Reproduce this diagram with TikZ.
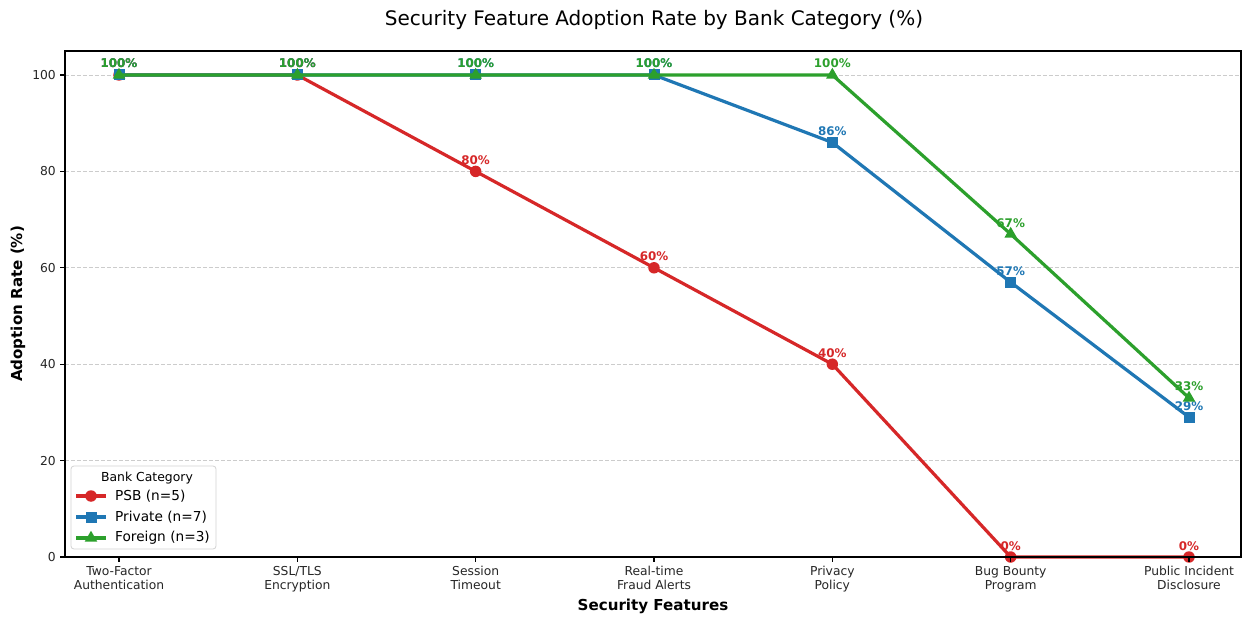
\documentclass[tikz,border=0pt]{standalone}
\usepackage{fontspec}
\setmainfont{DejaVu Sans}
\usetikzlibrary{shapes.geometric}
\definecolor{cpsb}{HTML}{D62728}
\definecolor{cpriv}{HTML}{1F77B4}
\definecolor{cfor}{HTML}{2CA02C}
\definecolor{gridc}{HTML}{CCCCCC}
\begin{document}
\begin{tikzpicture}[x=1pt,y=-1pt,
  ticklab/.style={font=\fontsize{12.3}{14.2}\selectfont, inner sep=0pt, text=black!85},
  axlab/.style={font=\fontsize{15.1}{17}\selectfont\bfseries, inner sep=0pt},
  annot/.style={font=\fontsize{11.9}{13}\selectfont\bfseries, inner sep=0pt, anchor=base, yshift=7pt},
  series/.style={line width=3.2pt, line join=round, line cap=round},
  mcirc/.style={circle, fill=#1, inner sep=0pt, minimum size=11.5pt},
  msq/.style={rectangle, fill=#1, inner sep=0pt, minimum size=11pt},
  mtri/.style={regular polygon, regular polygon sides=3, fill=#1, inner sep=0pt, minimum size=14.5pt},
  gridline/.style={gridc, line width=0.8pt, dash pattern=on 4pt off 2pt},
  legtext/.style={font=\fontsize{13.7}{14.5}\selectfont, inner sep=0pt, anchor=west},
]
\useasboundingbox (0,0) rectangle (1242,617);
\fill[white] (0,0) rectangle (1242,617);

% title
\node[font=\fontsize{20}{22}\selectfont, inner sep=0pt] (title) at (654,20) {Security Feature Adoption Rate by Bank Category (\%)};

% data scope
\begin{scope}[shift={(119,557)}, x=178.333pt, y=4.82pt]
  \foreach \v in {20,40,60,80,100} { \draw[gridline] (-0.303,\v) -- (6.292,\v); }
  % coordinates
  \foreach \i/\v in {0/100,1/100,2/80,3/60,4/40,5/0,6/0} { \coordinate (a\i) at (\i,\v); }
  \foreach \i/\v in {0/100,1/100,2/100,3/100,4/86,5/57,6/29} { \coordinate (b\i) at (\i,\v); }
  \foreach \i/\v in {0/100,1/100,2/100,3/100,4/100,5/67,6/33} { \coordinate (c\i) at (\i,\v); }
  % PSB
  \draw[series, cpsb] (a0) -- (a1) -- (a2) -- (a3) -- (a4) -- (a5) -- (a6);
  \foreach \i/\t in {0/100,1/100,2/80,3/60,4/40,5/0,6/0} {
    \node[mcirc=cpsb] (ma\i) at (a\i) {};
    \node[annot, text=cpsb] (la\i) at (a\i) {\t\%};
  }
  % Private
  \draw[series, cpriv] (b0) -- (b1) -- (b2) -- (b3) -- (b4) -- (b5) -- (b6);
  \foreach \i/\t in {0/100,1/100,2/100,3/100,4/86,5/57,6/29} {
    \node[msq=cpriv] (mb\i) at (b\i) {};
    \node[annot, text=cpriv] (lb\i) at (b\i) {\t\%};
  }
  % Foreign
  \draw[series, cfor] (c0) -- (c1) -- (c2) -- (c3) -- (c4) -- (c5) -- (c6);
  \foreach \i/\t in {0/100,1/100,2/100,3/100,4/100,5/67,6/33} {
    \node[mtri=cfor] (mc\i) at (c\i) {};
    \node[annot, text=cfor] (lc\i) at (c\i) {\t\%};
  }
\end{scope}

% axes frame
\draw[line width=1.1pt, black] (65,51) rectangle (1241,557);

% y ticks
\foreach \v/\yy in {0/557,20/460.6,40/364.2,60/267.8,80/171.4,100/75} {
  \draw[line width=1.1pt] (60,\yy) -- (65,\yy);
  \node[ticklab, anchor=east] (yt\v) at (56,\yy) {\v};
}
% x ticks
\foreach \i/\xx/\t in {0/119/{Two-Factor\\Authentication},1/297.3/{SSL/TLS\\Encryption},2/475.7/{Session\\Timeout},3/654/{Real-time\\Fraud Alerts},4/832.3/{Privacy\\Policy},5/1010.7/{Bug Bounty\\Program},6/1189/{Public Incident\\Disclosure}} {
  \draw[line width=1.1pt] (\xx,557) -- (\xx,562);
  \node[ticklab, anchor=north, align=center] (xt\i) at (\xx,566) {\t};
}

% axis labels
\node[axlab] (xlabel) at (653,606) {Security Features};
\node[axlab, rotate=90] (ylabel) at (18,304) {Adoption Rate (\%)};

% legend
\draw[rounded corners=3pt, draw=gray!35, fill=white, fill opacity=0.85, line width=0.8pt] (71,466) rectangle (216,549);
\node[font=\fontsize{12.4}{14}\selectfont, inner sep=0pt] (legtitle) at (147,478) {Bank Category};
\coordinate (la) at (76,496); \coordinate (lae) at (106,496);
\coordinate (lb) at (76,517); \coordinate (lbe) at (106,517);
\coordinate (lc) at (76,538); \coordinate (lce) at (106,538);
\draw[series, cpsb, line cap=butt] (la) -- (lae);
\node[mcirc=cpsb] (lma) at (91,496) {};
\node[legtext] (lta) at (115,496) {PSB (n=5)};
\draw[series, cpriv, line cap=butt] (lb) -- (lbe);
\node[msq=cpriv] (lmb) at (91,517) {};
\node[legtext] (ltb) at (115,517) {Private (n=7)};
\draw[series, cfor, line cap=butt] (lc) -- (lce);
\node[mtri=cfor] (lmc) at (91,538) {};
\node[legtext] (ltc) at (115,538) {Foreign (n=3)};
\end{tikzpicture}
\end{document}
